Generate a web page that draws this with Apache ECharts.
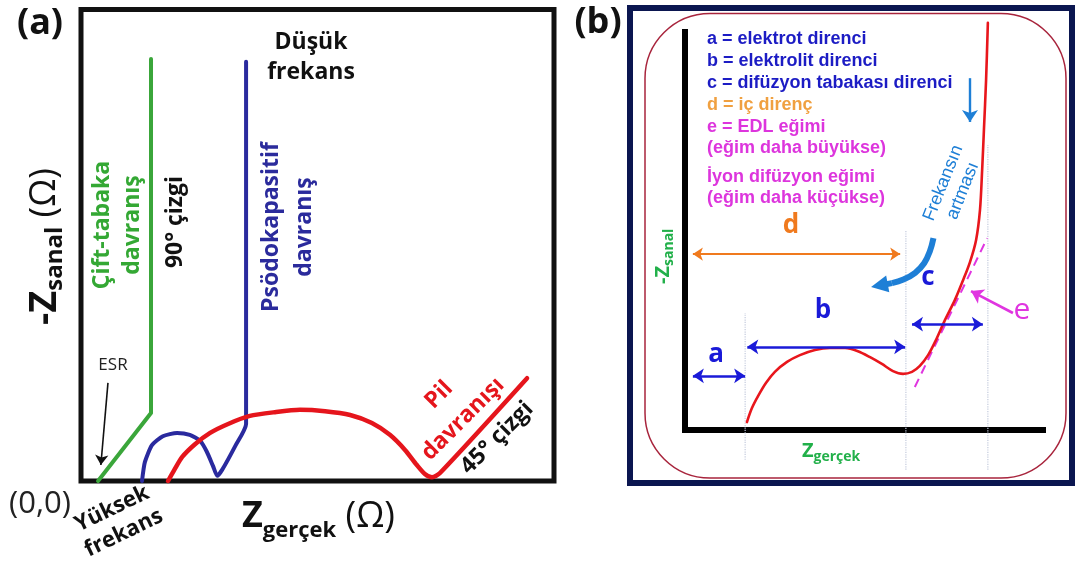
<!DOCTYPE html>
<html>
<head>
<meta charset="utf-8">
<script src="https://cdn.jsdelivr.net/npm/echarts@6/dist/echarts.min.js"></script>
<style>
  html, body { margin: 0; padding: 0; background: #fff; }
  #chart { width: 1077px; height: 571px; }
</style>
</head>
<body>
<div id="chart"></div>
<script>
// ---------- Panel (a): Nyquist shapes (Z' , -Z'' in % of the plot frame) ----------
const edlLine = [[3.6, 0], [14.8, 14.4], [14.8, 89.5]];
const pseudoLine = [[12.9, 0], [13.5, 4.0], [15.0, 7.6], [17.3, 9.5], [20.3, 10.2], [23.0, 9.8],
  [25.2, 8.5], [26.6, 6.2], [27.9, 3.2], [28.8, 1.1], [29.8, 2.3], [32.6, 7.4], [34.9, 12.1], [34.9, 88.9]];
const batteryLine = [[18.4, 0], [19.7, 2.3], [21.4, 5.1], [24.1, 7.8], [27.3, 10.2], [31.1, 12.1],
  [35.7, 13.8], [41.0, 14.6], [46.3, 15.1], [51.6, 14.8], [56.9, 14.0], [61.5, 12.3], [65.3, 9.8],
  [68.5, 6.6], [71.0, 3.4], [72.7, 1.5], [74.2, 0.8], [75.9, 1.7], [94.3, 21.8]];
const esrPointer = [[5.7, 20.8], [4.2, 3.4]];

// ---------- Panel (b): one cell's Nyquist curve ----------
const cellCurve = [[17.3, 2.0], [18.7, 5.5], [20.4, 8.5], [22.6, 11.8], [25.1, 14.6], [28.5, 17.1],
  [32.1, 18.8], [36.3, 20.1], [40.5, 20.6], [44.7, 20.6], [48.3, 19.8], [51.7, 18.3], [55.0, 16.6],
  [58.1, 14.8], [60.9, 14.1], [63.4, 14.6], [65.6, 16.1], [67.9, 18.8], [70.1, 22.6], [72.6, 27.6],
  [75.4, 32.7], [77.7, 37.7], [79.6, 42.2], [81.3, 47.7], [82.4, 55.3], [83.0, 65.3], [83.5, 75.4],
  [84.1, 87.9], [84.6, 102.3]];
const edlSlope = [[64.2, 10.8], [84.4, 48.2]];
const guideA = [[16.8, -7.5], [16.8, 29.4]];
const guideB = [[61.7, -10], [61.7, 50.3]];
const guideC = [[84.6, -10], [84.6, 71.6]];
const spanA = [[2.2, 13.6], [16.8, 13.6]];
const spanB = [[17.4, 20.9], [61.5, 20.9]];
const spanC = [[63.4, 26.6], [83.2, 26.6]];
const spanD = [[2.2, 44.2], [60.1, 44.2]];
const freqDown = [[79.6, 88.4], [79.6, 77.4]];
const freqArc = [[69.4, 48.2], [68.4, 44.9], [66.8, 41.9], [64.3, 39.5], [61.0, 37.8], [57.8, 36.9]];
const freqArcHead = [[57.8, 36.9], [54.3, 36.3]];
const edlPointer = [[91.6, 29.4], [79.9, 34.9]];

const legendLines = [
  'a = elektrot direnci',
  'b = elektrolit direnci',
  'c = difüzyon tabakası direnci',
  'd = iç direnç',
  'e = EDL eğimi',
  '(eğim daha büyükse)',
  'İyon difüzyon eğimi',
  '(eğim daha küçükse)'
];
const legendColors = ['#1c1cc4', '#1c1cc4', '#1c1cc4', '#f0a040', '#dd35dd', '#dd35dd', '#dd35dd', '#dd35dd'];
const legendY = [39, 61, 83, 105, 127, 148, 177, 198];

// ---------- helpers ----------
const ctx2d = document.createElement('canvas').getContext('2d');
function measure(t, f) { ctx2d.font = f; return ctx2d.measureText(t).width; }

function txt(text, x, y, font, fill, extra) {
  const el = { type: 'text', x: x, y: y, silent: true,
    style: { text: text, font: font, fill: fill, align: 'center', verticalAlign: 'middle' } };
  if (extra) {
    if (extra.rotation) el.rotation = extra.rotation;
    if (extra.lineHeight) el.style.lineHeight = extra.lineHeight;
    if (extra.align) el.style.align = extra.align;
  }
  return el;
}
// Inline runs (main text + subscripts) laid out from a start point
function runs(x, y, rotation, parts) {
  let cx = 0;
  const children = parts.map(p => {
    const el = { type: 'text', x: cx, y: p.dy || 0,
      style: { text: p.t, font: p.f, fill: p.c, align: 'left', verticalAlign: 'middle' } };
    cx += measure(p.t, p.f);
    return el;
  });
  return { type: 'group', x: x, y: y, rotation: rotation, silent: true, children: children };
}

const OS = '"Open Sans", "DejaVu Sans", sans-serif';
const LS = '"Liberation Sans", Arial, sans-serif';
const GREEN_A = '#34a834', BLUE_A = '#2b2b9c', RED = '#e5151c';
const GREEN_B = '#22b04a', BLUE_B = '#1a1ad8', ORANGE = '#f07a1e', MAGENTA = '#e035e0', SKY = '#1e7fd6';

function arrowLine(pts, color, width, symbols, size) {
  return [{ coord: pts[0], symbol: symbols[0], symbolSize: size,
      lineStyle: { color: color, width: width, type: 'solid' } },
    { coord: pts[1], symbol: symbols[1], symbolSize: size }];
}

const hiddenAxis = (gi) => ({ gridIndex: gi, type: 'value', min: 0, max: 100, show: false });
const blackAxis = (gi) => ({ gridIndex: gi, type: 'value', min: 0, max: 100,
  axisLine: { show: true, onZero: false, lineStyle: { color: '#000', width: 6, cap: 'square' } },
  axisTick: { show: false }, axisLabel: { show: false }, splitLine: { show: false } });

const chart = echarts.init(document.getElementById('chart'), null, { renderer: 'canvas' });

const graphics = [
  // panel (b) frames
  { type: 'rect', silent: true, z: 0, shape: { x: 630, y: 8, width: 442, height: 475 },
    style: { fill: 'none', stroke: '#0b1650', lineWidth: 6 } },
  { type: 'rect', silent: true, z: 0, shape: { x: 645, y: 13.5, width: 421, height: 464.5, r: 65 },
    style: { fill: 'none', stroke: '#a8243c', lineWidth: 1.5 } },

  // panel (a) texts
  txt('(a)', 40, 24, 'bold 36px ' + OS, '#111'),
  txt('Düşük\nfrekans', 311, 57, 'bold 23px ' + OS, '#111', { lineHeight: 30 }),
  txt('Çift-tabaka\ndavranış', 117, 225, 'bold 23px ' + OS, GREEN_A, { rotation: Math.PI / 2, lineHeight: 30 }),
  txt('90° çizgi', 175, 222, 'bold 23px ' + OS, '#111', { rotation: Math.PI / 2 }),
  txt('Psödokapasitif\ndavranış', 288, 227, 'bold 23px ' + OS, BLUE_A, { rotation: Math.PI / 2, lineHeight: 33 }),
  txt('ESR', 113, 365, '17px ' + OS, '#222'),
  txt('(0,0)', 40, 504, '31px ' + OS, '#222'),
  txt('Yüksek\nfrekans', 118, 521, 'bold 22px ' + OS, '#111', { rotation: 0.45, lineHeight: 27 }),
  txt('Pil\ndavranışı', 451, 407, 'bold 23px ' + OS, RED, { rotation: Math.PI / 4, lineHeight: 34 }),
  txt('45° çizgi', 497, 438, 'bold 23px ' + OS, '#111', { rotation: Math.PI / 4 }),
  runs(242, 517, 0, [
    { t: 'Z', f: 'bold 36px ' + OS, c: '#111' },
    { t: 'gerçek', f: 'bold 22px ' + OS, c: '#111', dy: 14 },
    { t: ' (Ω)', f: '36px ' + OS, c: '#111' }
  ]),
  runs(45, 325, Math.PI / 2, [
    { t: '-Z', f: 'bold 38px ' + OS, c: '#111' },
    { t: 'sanal', f: 'bold 24px ' + OS, c: '#111', dy: 10 },
    { t: ' (Ω)', f: '36px ' + OS, c: '#111' }
  ]),

  // panel (b) texts
  txt('(b)', 598, 23, 'bold 36px ' + OS, '#111'),
  txt('a', 716, 355, 'bold 26px ' + OS, BLUE_B),
  txt('b', 823, 311, 'bold 26px ' + OS, BLUE_B),
  txt('c', 928, 278, 'bold 26px ' + OS, BLUE_B),
  txt('d', 791, 226, 'bold 26px ' + OS, ORANGE),
  txt('e', 1022, 310, '30px ' + OS, MAGENTA),
  txt('Frekansın\nartması', 953, 187, '18px ' + LS, SKY, { rotation: 1.19, lineHeight: 21 }),
  runs(663, 284, Math.PI / 2, [
    { t: '-Z', f: 'bold 20px ' + OS, c: GREEN_B },
    { t: 'sanal', f: 'bold 14px ' + OS, c: GREEN_B, dy: 6 }
  ]),
  runs(802, 451, 0, [
    { t: 'Z', f: 'bold 20px ' + OS, c: GREEN_B },
    { t: 'gerçek', f: 'bold 14px ' + OS, c: GREEN_B, dy: 6 }
  ])
];
legendLines.forEach((line, i) => {
  graphics.push(txt(line, 707, legendY[i], 'bold 18px ' + LS, legendColors[i], { align: 'left' }));
});

const curveStyle = (color, width) => ({ color: color, width: width, cap: 'round', join: 'round' });

chart.setOption({
  animation: false,
  backgroundColor: '#fff',
  grid: [
    { left: 81, top: 9.5, width: 473, height: 471.5, show: true, borderColor: '#111', borderWidth: 5, backgroundColor: 'transparent' },
    { left: 685, top: 32, width: 358, height: 398 }
  ],
  xAxis: [hiddenAxis(0), blackAxis(1)],
  yAxis: [hiddenAxis(0), blackAxis(1)],
  series: [
    { name: 'Çift-tabaka', type: 'line', xAxisIndex: 0, yAxisIndex: 0, data: edlLine, showSymbol: false,
      clip: false, lineStyle: curveStyle('#3aa63a', 4) },
    { name: 'Psödokapasitif', type: 'line', xAxisIndex: 0, yAxisIndex: 0, data: pseudoLine, showSymbol: false,
      clip: false, smooth: 0.2, lineStyle: curveStyle('#2a2a9e', 4) },
    { name: 'Pil', type: 'line', xAxisIndex: 0, yAxisIndex: 0, data: batteryLine, showSymbol: false,
      clip: false, smooth: 0.25, lineStyle: curveStyle(RED, 4.5) },
    { name: 'ESR', type: 'line', xAxisIndex: 0, yAxisIndex: 0, data: [], silent: true,
      markLine: { silent: true, animation: false, label: { show: false },
        data: [arrowLine(esrPointer, '#111', 1.6, ['none', 'arrow'], 10)] } },

    // panel (b)
    { name: 'guides', type: 'line', xAxisIndex: 1, yAxisIndex: 1, data: guideA, showSymbol: false, clip: false,
      lineStyle: { color: '#c3cadc', width: 1.2, type: 'dotted' } },
    { name: 'guides2', type: 'line', xAxisIndex: 1, yAxisIndex: 1, data: guideB, showSymbol: false, clip: false,
      lineStyle: { color: '#c3cadc', width: 1.2, type: 'dotted' } },
    { name: 'guides3', type: 'line', xAxisIndex: 1, yAxisIndex: 1, data: guideC, showSymbol: false, clip: false,
      lineStyle: { color: '#c3cadc', width: 1.2, type: 'dotted' } },
    { name: 'EDL', type: 'line', xAxisIndex: 1, yAxisIndex: 1, data: edlSlope, showSymbol: false, clip: false,
      lineStyle: { color: MAGENTA, width: 2, type: [9, 6] } },
    { name: 'Nyquist', type: 'line', xAxisIndex: 1, yAxisIndex: 1, data: cellCurve, showSymbol: false,
      clip: false, smooth: 0.3, lineStyle: curveStyle('#e8161c', 2.6) },
    { name: 'Frekans', type: 'line', xAxisIndex: 1, yAxisIndex: 1, data: freqArc, showSymbol: false,
      clip: false, smooth: 0.4, lineStyle: { color: SKY, width: 6, cap: 'butt', join: 'round' } },
    { name: 'spans', type: 'line', xAxisIndex: 1, yAxisIndex: 1, data: [], silent: true,
      markLine: { silent: true, animation: false, label: { show: false },
        data: [
          arrowLine(spanA, BLUE_B, 2.6, ['arrow', 'arrow'], 11),
          arrowLine(spanB, BLUE_B, 2.6, ['arrow', 'arrow'], 11),
          arrowLine(spanC, BLUE_B, 2.6, ['arrow', 'arrow'], 11),
          arrowLine(spanD, ORANGE, 2.2, ['arrow', 'arrow'], 10),
          arrowLine(freqDown, SKY, 2.4, ['none', 'arrow'], 12),
          arrowLine(freqArcHead, SKY, 6, ['none', 'triangle'], 17),
          arrowLine(edlPointer, MAGENTA, 2.6, ['none', 'arrow'], 12)
        ] } }
  ],
  graphic: graphics
});
</script>
</body>
</html>
